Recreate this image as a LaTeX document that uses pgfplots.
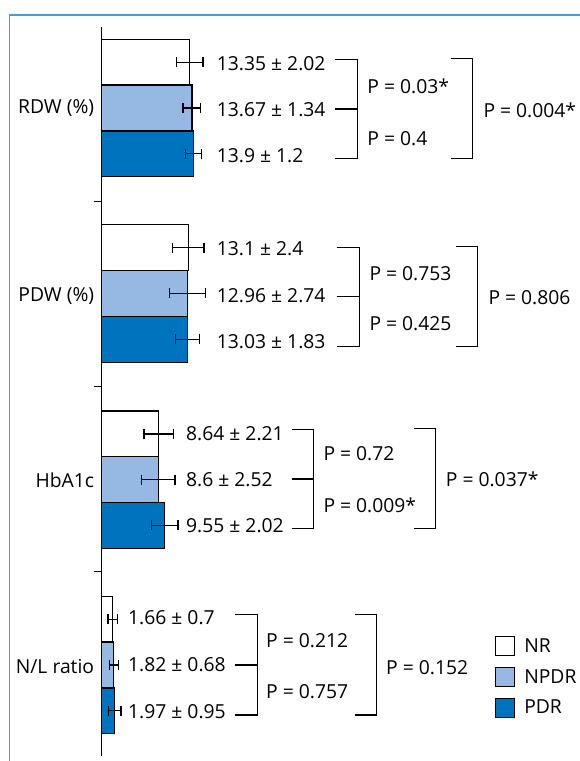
\documentclass[border=0pt]{standalone}
\usepackage{fontspec}
\setmainfont{Open Sans}
\usepackage{pgfplots}
\pgfplotsset{compat=1.18}
\definecolor{npdr}{RGB}{150,185,228}
\definecolor{pdr}{RGB}{0,115,190}
\definecolor{framec}{RGB}{75,155,215}
\begin{document}
\begin{tikzpicture}[x=1pt,y=1pt,font=\fontsize{19.3pt}{23pt}\selectfont]
\useasboundingbox (0,0) rectangle (579,761);
\draw[framec, line width=1.6pt] (9.3,-5) -- (9.3,746) -- (585,746);
\begin{axis}[
  at={(101.7pt,5pt)}, anchor=south west,
  scale only axis, width=462pt, height=729.3pt,
  xmin=0, xmax=70, ymin=5, ymax=734.3,
  axis x line=none, axis y line*=left,
  axis line style={line width=1.3pt, black},
  xbar, bar width=45.8pt,
  ytick={652.75,465,281,94.5},
  yticklabels={RDW (\%), PDW (\%), HbA1c, N/L ratio},
  major tick length=0pt,
  yticklabel style={inner sep=0pt, xshift=-7.4pt},
  extra y ticks={559.3,374.3,189.3}, extra y tick labels={},
  extra y tick style={major tick length=8pt, tick align=outside, tick style={line width=1.3pt, black}},
  clip=false,
  legend image code/.code={\draw[#1, line width=1.3pt] (0pt,-9.5pt) rectangle (19pt,9.5pt);},
  legend style={draw=none, fill=none, inner sep=0pt, outer sep=0pt,
    at={(0.8513,0.1645)}, anchor=north west, row sep=10.5pt,
    nodes={inner sep=0pt, anchor=west},
    /tikz/every odd column/.append style={column sep=9pt}},
  legend cell align=left,
  error bars/error mark=|,
]
\addplot[draw=black, line width=1.3pt, fill=white, bar shift=45.8pt,
  error bars/.cd, x dir=both, x explicit, error mark=|,
  error bar style={line width=1.3pt, black},
  error mark options={line width=1.3pt, black, mark size=5pt}]
  coordinates {(13.35,653) +- (2.02,0) (13.1,467.5) +- (2.4,0) (8.64,281.3) +- (2.21,0) (1.66,96) +- (0.7,0)};
\addlegendentry{NR}
\addplot[draw=black, line width=1.3pt, fill=npdr, bar shift=0pt,
  error bars/.cd, x dir=both, x explicit, error mark=|,
  error bar style={line width=1.3pt, black},
  error mark options={line width=1.3pt, black, mark size=5pt}]
  coordinates {(13.67,653) +- (1.34,0) (12.96,467.5) +- (2.74,0) (8.6,281.3) +- (2.52,0) (1.82,96) +- (0.68,0)};
\addlegendentry{NPDR}
\addplot[draw=black, line width=1.3pt, fill=pdr, bar shift=-45.8pt,
  error bars/.cd, x dir=both, x explicit, error mark=|,
  error bar style={line width=1.3pt, black},
  error mark options={line width=1.3pt, black, mark size=5pt}]
  coordinates {(13.9,653) +- (1.2,0) (13.03,467.5) +- (1.83,0) (9.55,281.3) +- (2.02,0) (1.97,96) +- (0.95,0)};
\addlegendentry{PDR}

% value labels
\begin{scope}[every node/.style={anchor=west, inner sep=0pt}]
\node at (axis cs:17.42,697.7) {13.35 ± 2.02};
\node at (axis cs:17.42,651) {13.67 ± 1.34};
\node at (axis cs:17.42,605) {13.9 ± 1.2};
\node at (axis cs:17.42,512.7) {13.1 ± 2.4};
\node at (axis cs:17.42,465.3) {12.96 ± 2.74};
\node at (axis cs:17.42,419.3) {13.03 ± 1.83};
\node at (axis cs:12.77,327.7) {8.64 ± 2.21};
\node at (axis cs:12.77,281) {8.6 ± 2.52};
\node at (axis cs:12.77,235) {9.55 ± 2.02};
\node at (axis cs:3.98,143.7) {1.66 ± 0.7};
\node at (axis cs:3.98,96) {1.82 ± 0.68};
\node at (axis cs:3.98,49.3) {1.97 ± 0.95};
% p values
\node at (axis cs:40.24,674.3) {P = 0.03*};
\node at (axis cs:40.24,622.7) {P = 0.4};
\node at (axis cs:57.82,651) {P = 0.004*};
\node at (axis cs:40.55,487) {P = 0.753};
\node at (axis cs:40.55,437) {P = 0.425};
\node at (axis cs:58.58,463.7) {P = 0.806};
\node at (axis cs:33.58,307.7) {P = 0.72};
\node at (axis cs:33.58,256) {P = 0.009*};
\node at (axis cs:52.12,282) {P = 0.037*};
\node at (axis cs:24.89,120) {P = 0.212};
\node at (axis cs:24.89,69.3) {P = 0.757};
\node at (axis cs:43.08,93.7) {P = 0.152};
\end{scope}
% brackets
\begin{scope}[line width=1.3pt, black]
\draw (axis cs:35.35,701.7) -| (axis cs:38.73,602.7) -- (axis cs:35.35,602.7);
\draw (axis cs:35.35,652) -- (axis cs:38.73,652);
\draw (axis cs:52.88,702.2) -| (axis cs:56.21,602.7) -- (axis cs:52.88,602.7);
\draw (axis cs:35.70,513.7) -| (axis cs:39.03,414.3) -- (axis cs:35.70,414.3);
\draw (axis cs:35.70,464.3) -- (axis cs:39.03,464.3);
\draw (axis cs:53.68,514.3) -| (axis cs:56.91,414.3) -- (axis cs:53.68,414.3);
\draw (axis cs:28.79,331.7) -| (axis cs:32.12,232.7) -- (axis cs:28.79,232.7);
\draw (axis cs:28.79,282) -- (axis cs:32.12,282);
\draw (axis cs:47.32,332.7) -| (axis cs:50.61,232.7) -- (axis cs:47.32,232.7);
\draw (axis cs:20.20,146.7) -| (axis cs:23.58,46) -- (axis cs:20.20,46);
\draw (axis cs:20.20,96) -- (axis cs:23.58,96);
\draw (axis cs:38.38,146.7) -| (axis cs:41.67,46) -- (axis cs:38.38,46);
\end{scope}
\end{axis}
\end{tikzpicture}
\end{document}
